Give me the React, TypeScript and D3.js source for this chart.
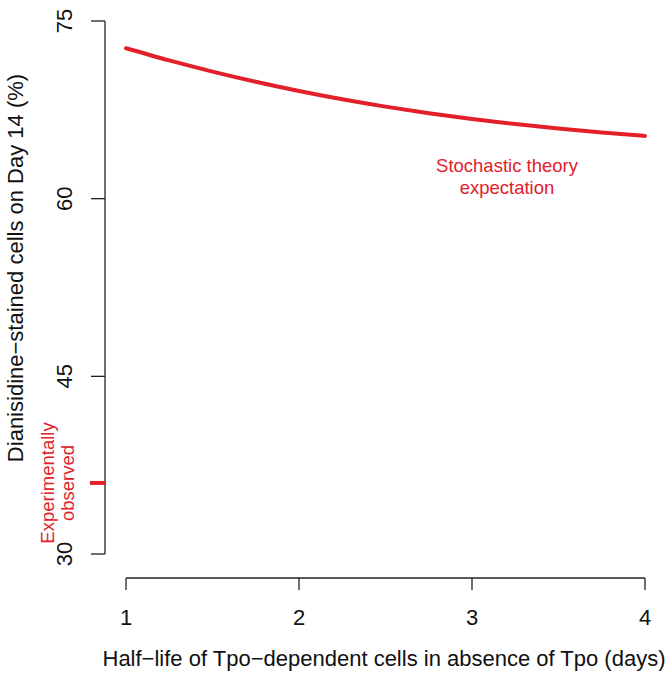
import React, { useEffect } from "react";
import * as d3 from "d3";

const halfLife = [1, 1.25, 1.5, 1.75, 2, 2.25, 2.5, 2.75, 3, 3.25, 3.5, 3.75, 4];
const stained = [72.7, 71.67, 70.73, 69.87, 69.09, 68.39, 67.77, 67.22, 66.73, 66.3, 65.92, 65.59, 65.3];
const observed = 36;
const xTicks = [1, 2, 3, 4];
const yTicks = [30, 45, 60, 75];
const xTitle = "Half\u2212life of Tpo\u2212dependent cells in absence of Tpo (days)";
const yTitle = "Dianisidine\u2212stained cells on Day 14 (%)";
const theoryLabel = ["Stochastic theory", "expectation"];
const obsLabel = ["Experimentally", "observed"];

const W = 672;
const H = 673;
const RED = "#e3202a";
const FONT = "'Liberation Sans', Arial, Helvetica, sans-serif";

export default function App() {
  useEffect(() => {
    document.body.style.margin = "0";
  }, []);
  const x = d3.scaleLinear().domain([1, 4]).range([126, 645]);
  const y = d3.scaleLinear().domain([30, 75]).range([554, 21]);
  const pts: [number, number][] = halfLife.map((h, i) => [h, stained[i]]);
  const line = d3
    .line<[number, number]>()
    .x((d) => x(d[0]))
    .y((d) => y(d[1]))
    .curve(d3.curveNatural);
  const axisX = 105;
  const axisY = 578;
  return (
    <svg width={W} height={H} style={{ display: "block", background: "#fff" }} fontFamily={FONT}>
      {/* Y axis */}
      <line x1={axisX} x2={axisX} y1={y(30)} y2={y(75)} stroke="#222" strokeWidth={1.3} />
      {yTicks.map((t) => (
        <g key={t}>
          <line x1={axisX - 14} x2={axisX} y1={y(t)} y2={y(t)} stroke="#222" strokeWidth={1.3} />
          <text
            transform={`translate(${64},${y(t)}) rotate(-90)`}
            textAnchor="middle"
            dominantBaseline="central"
            fontSize={22}
            fill="#111"
          >
            {t}
          </text>
        </g>
      ))}
      {/* X axis */}
      <line x1={x(1)} x2={x(4)} y1={axisY} y2={axisY} stroke="#222" strokeWidth={1.3} />
      {xTicks.map((t) => (
        <g key={t}>
          <line x1={x(t)} x2={x(t)} y1={axisY} y2={axisY + 12} stroke="#222" strokeWidth={1.3} />
          <text x={x(t)} y={617} textAnchor="middle" dominantBaseline="central" fontSize={22} fill="#111">
            {t}
          </text>
        </g>
      ))}
      <text x={384} y={658} textAnchor="middle" dominantBaseline="central" fontSize={22} fill="#111">
        {xTitle}
      </text>
      <text
        transform={`translate(${15},${268}) rotate(-90)`}
        textAnchor="middle"
        dominantBaseline="central"
        fontSize={22}
        fill="#111"
      >
        {yTitle}
      </text>
      {/* Theory curve */}
      <path d={line(pts) || ""} fill="none" stroke={RED} strokeWidth={4} strokeLinecap="round" />
      {theoryLabel.map((s, i) => (
        <text key={s} x={507} y={165 + i * 22} textAnchor="middle" dominantBaseline="central" fontSize={18.5} fill={RED}>
          {s}
        </text>
      ))}
      {/* Observed tick */}
      <line x1={90} x2={106} y1={y(observed)} y2={y(observed)} stroke={RED} strokeWidth={4} />
      {obsLabel.map((s, i) => (
        <text
          key={s}
          transform={`translate(${47 + i * 20},${483}) rotate(-90)`}
          textAnchor="middle"
          dominantBaseline="central"
          fontSize={18.5}
          fill={RED}
        >
          {s}
        </text>
      ))}
    </svg>
  );
}
